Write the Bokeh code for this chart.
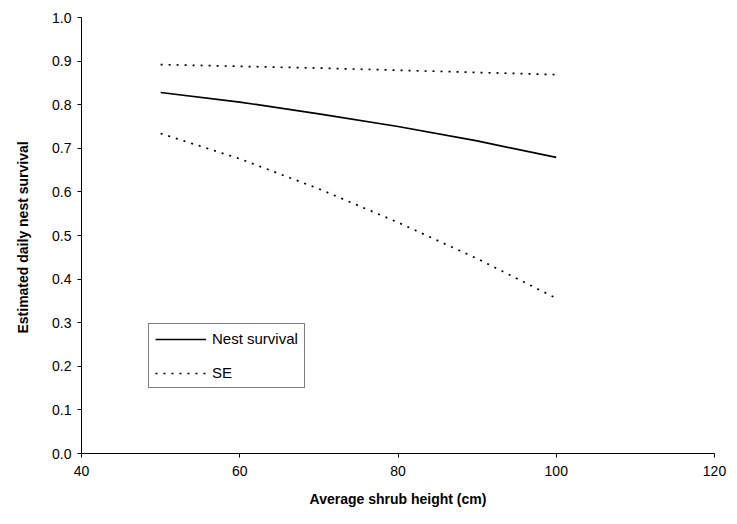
from bokeh.plotting import figure
from bokeh.models import Range1d, Legend, LegendItem, FixedTicker, CustomJSTickFormatter
from bokeh.embed import file_html
from bokeh.resources import INLINE

shrub_height = [50, 60, 70, 80, 90, 100]
nest_survival = [0.828, 0.806, 0.779, 0.750, 0.717, 0.679]
se_upper = [0.892, 0.888, 0.884, 0.879, 0.874, 0.869]
se_lower = [0.734, 0.676, 0.607, 0.530, 0.447, 0.356]

x_ticks = [40, 60, 80, 100, 120]
y_ticks = [0.0, 0.1, 0.2, 0.3, 0.4, 0.5, 0.6, 0.7, 0.8, 0.9, 1.0]

FONT = "Liberation Sans"

p = figure(width=729, height=516, output_backend="svg", toolbar_location=None,
           x_range=Range1d(40, 120), y_range=Range1d(0, 1.0),
           min_border_left=81, min_border_right=15, min_border_top=17, min_border_bottom=63)
p.outline_line_color = None
p.xgrid.visible = False
p.ygrid.visible = False

r1 = p.line(shrub_height, nest_survival, line_color="black", line_width=1.7)
r2 = p.line(shrub_height, se_upper, line_color="black", line_width=1.7, line_dash="2 6")
p.line(shrub_height, se_lower, line_color="black", line_width=1.7, line_dash="2 6")

for ax in (p.xaxis[0], p.yaxis[0]):
    ax.axis_line_color = "black"
    ax.axis_line_width = 1
    ax.major_tick_line_color = "black"
    ax.major_tick_out = 4
    ax.major_tick_in = 0
    ax.minor_tick_line_color = None
    ax.major_label_text_font = FONT
    ax.major_label_text_font_size = "14px"
    ax.major_label_text_color = "black"
    ax.axis_label_text_font = FONT
    ax.axis_label_text_font_size = "14px"
    ax.axis_label_text_font_style = "bold"
    ax.axis_label_text_color = "black"

p.xaxis.ticker = FixedTicker(ticks=x_ticks)
p.yaxis.ticker = FixedTicker(ticks=y_ticks)
p.yaxis.formatter = CustomJSTickFormatter(code="return tick.toFixed(1);")
p.xaxis.axis_label = "Average shrub height (cm)"
p.yaxis.axis_label = "Estimated daily nest  survival"
p.xaxis.major_label_standoff = 8
p.xaxis.axis_label_standoff = 12
p.yaxis.major_label_standoff = 6
p.yaxis.axis_label_standoff = 18

legend = Legend(items=[LegendItem(label="Nest survival", renderers=[r1]),
                       LegendItem(label="SE", renderers=[r2])],
                location=(67, 65))
legend.border_line_color = "black"
legend.border_line_width = 1
legend.label_text_font = FONT
legend.label_text_font_size = "15px"
legend.label_text_color = "black"
legend.glyph_width = 51
legend.glyph_height = 14
legend.label_height = 14
legend.spacing = 17
legend.padding = 6
legend.margin = 0
legend.label_standoff = 6
legend.background_fill_alpha = 1
p.add_layout(legend, "center")

open("out.html", "w").write(file_html(p, INLINE))
